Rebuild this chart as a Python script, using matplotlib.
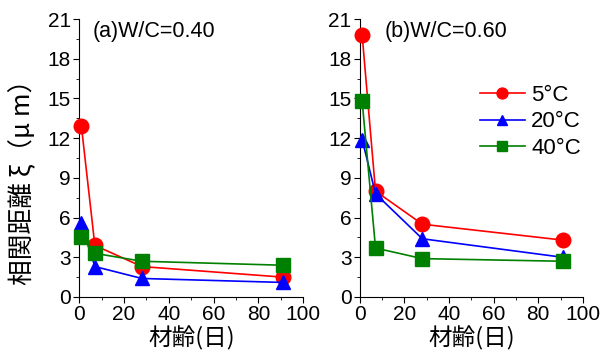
import numpy as np
import matplotlib
matplotlib.use('Agg')
import matplotlib.pyplot as plt
from matplotlib.ticker import MultipleLocator

plt.rcParams['font.family'] = ['Liberation Sans', 'Noto Sans CJK JP', 'DejaVu Sans']

# Data
days = [1, 7, 28, 91]
labels = ['5°C', '20°C', '40°C']
colors = ['#ff0000', '#0000ff', '#008000']
markers = ['o', '^', 's']

wc040_5 = [12.9, 3.9, 2.3, 1.5]
wc040_20 = [5.6, 2.3, 1.4, 1.1]
wc040_40 = [4.5, 3.3, 2.7, 2.4]

wc060_5 = [19.8, 8.0, 5.5, 4.3]
wc060_20 = [11.9, 7.8, 4.4, 3.0]
wc060_40 = [14.8, 3.7, 2.9, 2.7]

panels = [('(a)W/C=0.40', [wc040_5, wc040_20, wc040_40]),
          ('(b)W/C=0.60', [wc060_5, wc060_20, wc060_40])]

fig = plt.figure(figsize=(6.09, 3.6), dpi=100)
ax_pos = [[0.130, 0.175, 0.368, 0.772],
          [0.591, 0.175, 0.366, 0.772]]
title_x = [0.06, 0.11]

for i, (title, series) in enumerate(panels):
    ax = fig.add_axes(ax_pos[i])
    for y, c, m, lab in zip(series, colors, markers, labels):
        ms = 9.5 if m == 's' else 10.5
        ax.plot(days, y, color=c, marker=m, ms=ms, lw=1.2, label=lab,
                clip_on=False, zorder=3)
    ax.set_xlim(0, 100)
    ax.set_ylim(0, 21)
    ax.xaxis.set_major_locator(MultipleLocator(20))
    ax.xaxis.set_minor_locator(MultipleLocator(10))
    ax.yaxis.set_major_locator(MultipleLocator(3))
    ax.yaxis.set_minor_locator(MultipleLocator(1.5))
    for s in ['top', 'right']:
        ax.spines[s].set_visible(False)
    ax.tick_params(which='both', direction='out', labelsize=15, pad=2)
    ax.tick_params(which='major', length=4)
    ax.tick_params(which='minor', length=2.5)
    ax.text(title_x[i], 0.955, title, transform=ax.transAxes, fontsize=15.5,
            va='center', ha='left')
    ax.set_xlabel('材齢(日)', fontsize=17, family=['Noto Sans CJK JP'],
                  labelpad=1)
    if i == 0:
        ax.set_ylabel('相関距離 ξ（μ m）', fontsize=18.5,
                      family=['Noto Sans CJK JP'])
        ax.yaxis.set_label_coords(-0.19, 0.435)
    else:
        ax.legend(loc='upper left', bbox_to_anchor=(0.50, 0.795),
                  frameon=False, fontsize=16, handlelength=2.0,
                  handletextpad=0.3, labelspacing=0.25, markerscale=0.75,
                  borderaxespad=0)

fig.savefig('out.png', dpi=100)
